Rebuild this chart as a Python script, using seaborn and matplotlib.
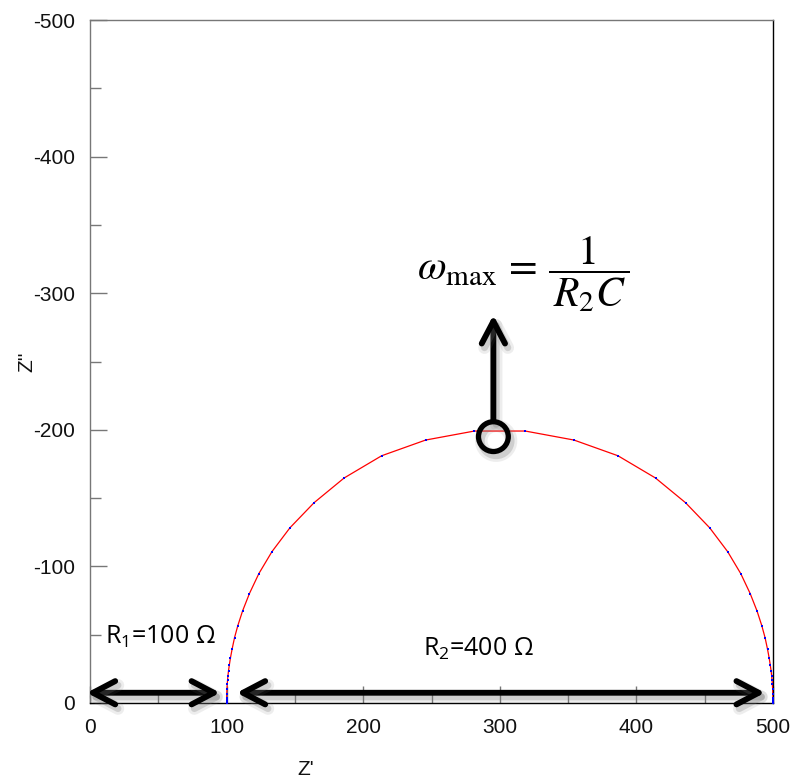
import matplotlib
matplotlib.use("Agg")
import matplotlib.pyplot as plt
import matplotlib.patheffects as pe
from matplotlib.ticker import MultipleLocator
import pandas as pd
import seaborn as sns

# Impedance spectrum of R1 + (R2 || C), from high to low frequency
z_real = [100.0, 100.0, 100.0, 100.0, 100.01, 100.02, 100.04, 100.1, 100.25, 100.48,
          100.69, 101.0, 101.4, 102.0, 102.8, 104.0, 105.8, 108.2, 111.7, 116.7,
          123.6, 133.2, 146.4, 164.0, 186.0, 213.5, 245.7, 281.4,
          318.6, 354.3, 386.5, 414.0, 436.0, 453.6, 466.8, 476.4, 483.3, 488.3,
          491.8, 494.2, 496.0, 497.2, 498.0, 498.6, 499.0, 499.31, 499.52, 499.75,
          499.9, 499.96, 499.98, 499.99, 500.0, 500.0, 500.0, 500.0]
z_imag = [-0.1, -0.3, -0.6, -1.0, -1.6, -2.5, -4.0, -6.3, -10.0, -13.9,
          -16.6, -20.0, -23.6, -27.8, -32.9, -39.3, -47.8, -56.6, -67.4, -80.1,
          -94.7, -110.8, -128.3, -146.6, -164.7, -181.0, -192.5, -199.1,
          -199.1, -192.5, -181.0, -164.7, -146.6, -128.3, -110.8, -94.7, -80.1, -67.4,
          -56.6, -47.8, -39.3, -32.9, -27.8, -23.6, -20.0, -16.6, -13.9, -10.0,
          -6.3, -4.0, -2.5, -1.6, -1.0, -0.6, -0.3, -0.1]

x_ticks = [0, 100, 200, 300, 400, 500]
y_ticks = [0, -100, -200, -300, -400, -500]

r1_label = "R$_{\\mathregular{1}}$=100 \u03a9"
r2_label = "R$_{\\mathregular{2}}$=400 \u03a9"
omega_label = r"$\omega_{\max}\,=\,\dfrac{1}{\,R_2C\,}$"

sns.set_theme(style="white")
plt.rcParams["font.family"] = ["Liberation Sans", "DejaVu Sans"]

fig = plt.figure(figsize=(7.92, 7.81), dpi=100)
ax = fig.add_axes([90 / 792, 1 - 703 / 781, 683 / 792, 683 / 781])

df = pd.DataFrame({"Z'": z_real, "Z''": z_imag})
sns.lineplot(data=df, x="Z'", y="Z''", sort=False, estimator=None,
             color="red", lw=0.9, ax=ax, zorder=3)
sns.scatterplot(data=df, x="Z'", y="Z''", marker="s", s=4.5, color="blue",
                linewidth=0, ax=ax, zorder=4)

ax.set_xlim(0, 500)
ax.set_ylim(0, -500)
ax.set_xticks(x_ticks)
ax.set_yticks(y_ticks)
ax.set_xticklabels([str(v) for v in x_ticks])
ax.set_yticklabels([str(v) for v in y_ticks])
ax.xaxis.set_minor_locator(MultipleLocator(50))
ax.yaxis.set_minor_locator(MultipleLocator(50))
ax.tick_params(which="both", direction="in", color="#777777", width=1,
               labelsize=15, labelcolor="#111111", pad=11,
               top=False, right=False, bottom=True, left=True)
ax.tick_params(which="major", length=12)
ax.tick_params(which="minor", length=8)

for side, col in (("left", "#777777"), ("top", "#777777"),
                  ("right", "black"), ("bottom", "black")):
    ax.spines[side].set_color(col)
    ax.spines[side].set_linewidth(1.0)

ax.set_xlabel("Z'", fontsize=15, color="#111111")
ax.set_ylabel("Z''", fontsize=15, color="#111111")
ax.xaxis.set_label_coords(0.316, -0.084)
ax.yaxis.set_label_coords(-0.078, 0.5)

shadow = [pe.SimpleLineShadow(offset=(2, -3), shadow_color="0.45", alpha=0.12, linewidth=9),
          pe.SimpleLineShadow(offset=(2, -3), shadow_color="0.45", alpha=0.25, linewidth=5),
          pe.Normal()]
arrow_kw = dict(arrowstyle="<->,head_length=0.8,head_width=0.42", lw=4.2,
                color="black", shrinkA=0, shrinkB=0, mutation_scale=20,
                capstyle="round", joinstyle="round", path_effects=shadow)

ax.annotate("", xy=(-2.4, -7.5), xytext=(95.2, -7.5), arrowprops=arrow_kw,
            annotation_clip=False, zorder=6)
ax.annotate("", xy=(107.4, -7.5), xytext=(494.1, -7.5), arrowprops=arrow_kw,
            annotation_clip=False, zorder=6)

up_kw = dict(arrow_kw)
up_kw["arrowstyle"] = "->,head_length=0.8,head_width=0.42"
ax.annotate("", xy=(295.3, -284), xytext=(295.3, -207), arrowprops=up_kw, zorder=6)

ax.scatter([295.3], [-195], s=460, facecolors="none", edgecolors="black",
           linewidths=3.8, zorder=7, path_effects=shadow)

open_font = ["Open Sans", "DejaVu Sans"]
plt.rcParams["mathtext.fontset"] = "custom"
plt.rcParams["mathtext.rm"] = "Open Sans"
ax.text(11, -43.7, r1_label, fontsize=18, family=open_font, va="baseline",
        ha="left", color="black", zorder=8)
ax.text(243.9, -34.4, r2_label, fontsize=18, family=open_font, va="baseline",
        ha="left", color="black", zorder=8)
ax.text(317.3, -314, omega_label, fontsize=30, math_fontfamily="stix",
        ha="center", va="center", color="black", zorder=8)

fig.savefig("out.png", dpi=100)
